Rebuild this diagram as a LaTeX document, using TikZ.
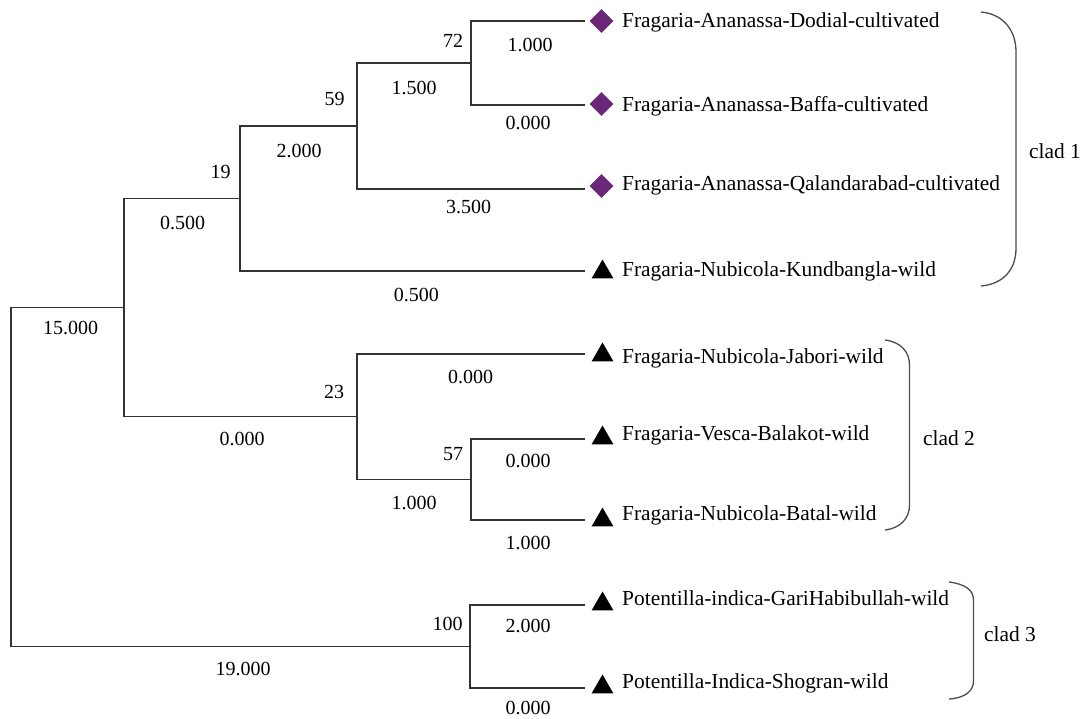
\documentclass[tikz,border=0pt]{standalone}
\usepackage{fontspec}
\setmainfont{Liberation Serif}
\usetikzlibrary{shapes.geometric}
\definecolor{cultivar}{RGB}{107,39,120}

\begin{document}
\begin{tikzpicture}[x=1pt,y=-1pt,
            branch/.style={draw=black!80,line width=1.3pt},
            clade/.style={draw=black!70,line width=1.3pt},
            cultivated/.style={diamond,fill=cultivar,inner sep=0pt,minimum width=24pt,minimum height=24pt},
            wild/.style={regular polygon,regular polygon sides=3,fill=black,inner sep=0pt,minimum size=25pt},
            taxon/.style={anchor=base west,inner sep=0pt,font=\fontsize{21.4}{24}\selectfont},
            support/.style={inner sep=0pt,font=\fontsize{20}{24}\selectfont},
            length/.style={inner sep=0pt,font=\fontsize{20}{24}\selectfont}]
            \useasboundingbox (0,0) rectangle (1084,718);

            \coordinate (r) at (11,477);
            \coordinate (x_in) at (124,307.6);
            \coordinate (x19) at (240,198.5);
            \coordinate (x59) at (357,126);
            \coordinate (x72) at (471,63);
            \coordinate (x23) at (357,416.8);
            \coordinate (x57) at (471,479.5);
            \coordinate (x100) at (470,646.5);

            \coordinate (l_1) at (585,21);
            \coordinate (l_2) at (585,105);
            \coordinate (l_3) at (585,189);
            \coordinate (l_4) at (585,271);
            \coordinate (l_5) at (585,354);
            \coordinate (l_6) at (585,439);
            \coordinate (l_7) at (585,520);
            \coordinate (l_8) at (585,605);
            \coordinate (l_9) at (585,688);

            \draw[branch] (r) |- (x_in);
            \draw[branch] (r) |- (x100);
            \draw[branch] (x_in) |- (x19);
            \draw[branch] (x_in) |- (x23);
            \draw[branch] (x19) |- (x59);
            \draw[branch] (x19) |- (l_4);
            \draw[branch] (x59) |- (x72);
            \draw[branch] (x59) |- (l_3);
            \draw[branch] (x72) |- (l_1);
            \draw[branch] (x72) |- (l_2);
            \draw[branch] (x23) |- (l_5);
            \draw[branch] (x23) |- (x57);
            \draw[branch] (x57) |- (l_6);
            \draw[branch] (x57) |- (l_7);
            \draw[branch] (x100) |- (l_8);
            \draw[branch] (x100) |- (l_9);

            \node[cultivated] (m_1) at (601.5,21) {};
            \node[cultivated] (m_2) at (601.5,104) {};
            \node[cultivated] (m_3) at (601.5,186) {};
            \node[wild] (m_4) at (602.5,272) {};
            \node[wild] (m_5) at (602.5,355) {};
            \node[wild] (m_6) at (602.5,438) {};
            \node[wild] (m_7) at (602.5,520) {};
            \node[wild] (m_8) at (602.5,604) {};
            \node[wild] (m_9) at (602.5,687) {};

            \node[taxon] (t_1) at (622,27.3) {Fragaria-Ananassa-Dodial-cultivated};
            \node[taxon] (t_2) at (622,111.7) {Fragaria-Ananassa-Baffa-cultivated};
            \node[taxon] (t_3) at (622,190) {Fragaria-Ananassa-Qalandarabad-cultivated};
            \node[taxon] (t_4) at (622,276) {Fragaria-Nubicola-Kundbangla-wild};
            \node[taxon] (t_5) at (622,363) {Fragaria-Nubicola-Jabori-wild};
            \node[taxon] (t_6) at (622,440) {Fragaria-Vesca-Balakot-wild};
            \node[taxon] (t_7) at (622,520) {Fragaria-Nubicola-Batal-wild};
            \node[taxon] (t_8) at (622,605) {Potentilla-indica-GariHabibullah-wild};
            \node[taxon] (t_9) at (622,688) {Potentilla-Indica-Shogran-wild};

            \node[support] (s72) at (453,41.3) {72};
            \node[support] (s59) at (334.7,99) {59};
            \node[support] (s19) at (220.7,172.3) {19};
            \node[support] (s23) at (334,391.7) {23};
            \node[support] (s57) at (453,454) {57};
            \node[support] (s100) at (447.7,624) {100};

            \node[length] (b_1) at (530,45) {1.000};
            \node[length] (b_2) at (528,123.3) {0.000};
            \node[length] (b_3) at (468.7,207.3) {3.500};
            \node[length] (b_4) at (416.3,294.7) {0.500};
            \node[length] (b_5) at (470.7,377.3) {0.000};
            \node[length] (b_6) at (528,460.7) {0.000};
            \node[length] (b_7) at (528,543.3) {1.000};
            \node[length] (b_8) at (528,626) {2.000};
            \node[length] (b_9) at (528,708.3) {0.000};
            \node[length] (b72) at (414,87.7) {1.500};
            \node[length] (b59) at (299,150.7) {2.000};
            \node[length] (b19) at (182.5,222.7) {0.500};
            \node[length] (b57) at (414,502.7) {1.000};
            \node[length] (b23) at (242,439.3) {0.000};
            \node[length] (b_in) at (70.6,328.3) {15.000};
            \node[length] (b100) at (243,668.7) {19.000};

            \draw[clade] (981,12) .. controls (1003,14) and (1016,30) .. (1016,52) -- (1016,248) .. controls (1016,270) and (1003,284) .. (981,286);
            \draw[clade] (885,340) .. controls (901,342) and (909.5,352) .. (909.5,365) -- (909.5,505) .. controls (909.5,518) and (901,528) .. (885,530);
            \draw[clade] (949,582) .. controls (965,584) and (973.5,590) .. (973.5,600) -- (973.5,681) .. controls (973.5,691) and (965,698) .. (949,699);
            \node[taxon,anchor=center] (c_1) at (1055,151) {clad 1};
            \node[taxon,anchor=center] (c_2) at (949,438) {clad 2};
            \node[taxon,anchor=center] (c_3) at (1010,634) {clad 3};
\end{tikzpicture}
\end{document}
